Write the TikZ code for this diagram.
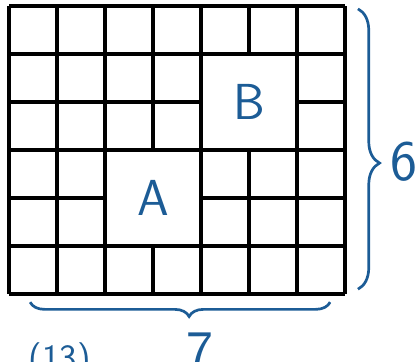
\documentclass[tikz,border=0pt]{standalone}
\usepackage{amsmath}
\usepackage{amssymb}
\usepackage{tikz}
\usetikzlibrary{decorations.pathreplacing}

\definecolor{ink}{RGB}{28,92,150}

\begin{document}
\begin{tikzpicture}[x = 1cm , y = 1cm]
    \useasboundingbox (-0.1875,-1.396) rectangle (8.5,6.125);
    \tikzset{gridline/.style = {line width = 2pt , black},
             bigcell/.style = {draw , line width = 2pt , fill = white , minimum size = 2cm , inner sep = 0pt , text = ink , font = \sffamily\fontsize{30}{30}\selectfont},
             inkbrace/.style = {ink , line width = 1.6pt , decorate}}
    \draw[gridline] (0,0) grid (7,6); % Πλεγμα
    \node[bigcell] (A) at (3,2) {A};
    \node[bigcell] (B) at (5,4) {B};
    % αγκυλες
    \coordinate (rtop) at (7.27,5.94);
    \coordinate (rbot) at (7.27,0.10);
    \draw[inkbrace , decoration = {brace , amplitude = 0.45cm , aspect = 0.55}] (rtop) -- (rbot);
    \coordinate (bright) at (6.69,-0.17);
    \coordinate (bleft) at (0.44,-0.17);
    \draw[inkbrace , decoration = {brace , amplitude = 0.3cm , aspect = 0.47}] (bright) -- (bleft);
    \node[ink , font = \sffamily\fontsize{34}{34}\selectfont] (six) at (8.22,2.75) {6};
    \node[ink , font = \sffamily\fontsize{34}{34}\selectfont , anchor = base] (seven) at (3.98,-1.6) {7};
    \node[ink , font = \sffamily\fontsize{22}{22}\selectfont , anchor = base] (num) at (1.06,-1.6) {(13)};
\end{tikzpicture}
\end{document}
